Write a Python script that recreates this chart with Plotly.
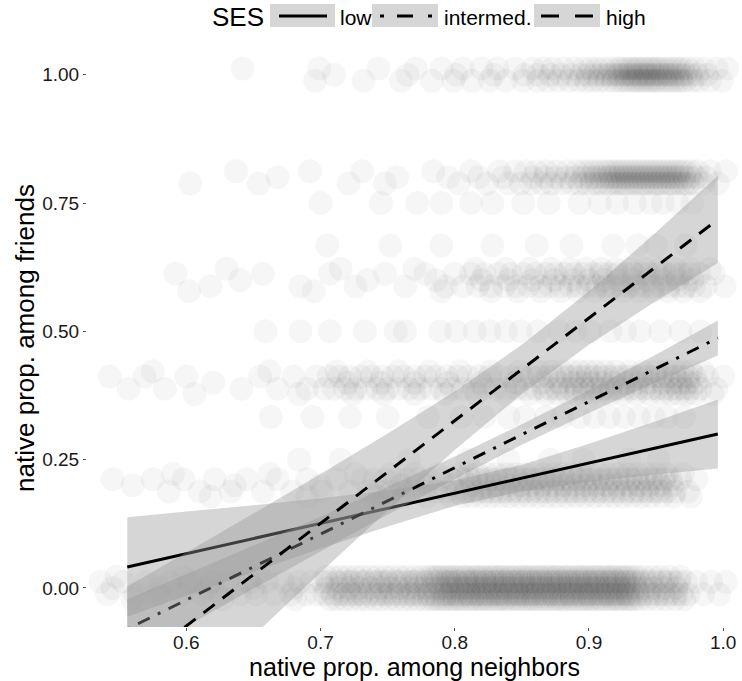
import plotly.graph_objects as go

# ---------------- data ----------------
# jittered observations: x in thousandths, grouped by friends-proportion level
r100_up = [642, 699, 743, 771, 790, 806, 820, 832, 845, 858, 866, 873, 881, 889, 896, 901, 906, 911, 916, 921, 924, 927, 930, 932, 935, 937, 940, 942, 945, 947, 950, 952, 955, 958, 961, 964, 967, 970, 974, 979, 986, 995, 1003]
r100_md = [710, 765, 801, 829, 852, 862, 871, 879, 887, 894, 899, 904, 908, 912, 915, 918, 921, 923, 926, 928, 931, 933, 936, 938, 941, 943, 945, 948, 950, 953, 955, 958, 960, 963, 966, 969, 972, 976, 981, 988]
r100_dn = [696, 732, 760, 783, 799, 813, 826, 838, 851, 862, 869, 877, 885, 892, 898, 903, 908, 913, 918, 922, 925, 928, 931, 934, 936, 939, 941, 944, 946, 949, 951, 954, 957, 960, 963, 966, 969, 972, 977, 982, 990, 999]
r080_up = [637, 692, 731, 784, 812, 833, 845, 853, 861, 868, 876, 884, 891, 896, 900, 904, 908, 912, 915, 918, 921, 924, 927, 930, 933, 936, 939, 942, 945, 948, 951, 954, 957, 960, 963, 966, 969, 972, 976, 981, 990, 1002]
r080_md = [668, 757, 795, 818, 836, 858, 867, 875, 883, 890, 896, 901, 905, 909, 913, 916, 919, 922, 925, 928, 931, 934, 937, 940, 943, 946, 949, 952, 955, 958, 961, 964, 967, 971, 975, 980, 987]
r080_dn = [603, 654, 721, 748, 803, 824, 840, 849, 857, 865, 872, 880, 887, 893, 898, 902, 906, 910, 914, 917, 920, 923, 926, 929, 932, 935, 938, 941, 944, 947, 950, 953, 956, 959, 962, 965, 968, 971, 974, 978, 985, 996]
r075 = [700, 745, 772, 790, 812, 828, 851, 870, 893, 908, 921, 934, 946, 955, 966, 977]
r067 = [705, 752, 790, 828, 861, 887, 918, 936, 950, 972]
r060_hi = [630, 715, 770, 815, 838, 856, 872, 886, 898, 909, 920, 931, 942, 953, 964, 975, 990]
r060_up = [592, 657, 707, 748, 778, 800, 812, 822, 832, 842, 851, 860, 868, 875, 882, 889, 896, 903, 909, 915, 921, 927, 933, 939, 945, 951, 957, 963, 969, 975, 982, 993]
r060_md = [640, 735, 786, 820, 840, 858, 874, 888, 900, 911, 922, 933, 944, 955, 966, 977]
r060_dn = [618, 685, 726, 763, 793, 806, 817, 827, 837, 846, 855, 864, 871, 879, 886, 893, 899, 906, 912, 918, 924, 930, 936, 942, 948, 954, 960, 966, 972, 978, 987, 1001]
r060_lo = [602, 695, 790, 827, 847, 864, 879, 892, 904, 915, 926, 937, 948, 959, 970, 983]
r050 = [659, 685, 707, 733, 756, 763, 789, 801, 815, 826, 838, 849, 862, 878, 890, 901, 916, 927, 938, 953, 968, 983]
r040_hi = [575, 662, 712, 735, 758, 781, 804, 827, 848, 862, 872, 880, 887, 893, 899, 905, 912, 920, 930, 940, 950, 958, 964, 970, 976, 985]
r040_up = [543, 569, 600, 655, 680, 697, 706, 714, 722, 730, 738, 746, 754, 762, 770, 778, 786, 794, 802, 810, 818, 826, 834, 842, 850, 857, 863, 869, 874, 879, 884, 889, 894, 899, 904, 909, 914, 919, 924, 929, 934, 939, 944, 949, 954, 959, 964, 969, 974, 979, 988, 1000]
r040_md = [620, 720, 745, 770, 795, 820, 845, 865, 878, 888, 895, 902, 910, 918, 927, 936, 945, 955, 962, 968, 974, 980]
r040_dn = [557, 584, 641, 668, 690, 703, 710, 718, 726, 734, 742, 750, 758, 766, 774, 782, 790, 798, 806, 814, 822, 830, 838, 846, 853, 860, 866, 871, 876, 881, 886, 891, 896, 901, 906, 911, 916, 921, 926, 931, 936, 941, 946, 951, 956, 961, 966, 971, 976, 983, 995]
r040_lo = [606, 684, 724, 747, 770, 793, 816, 838, 856, 868, 877, 884, 890, 896, 902, 908, 916, 925, 935, 945, 954, 961, 967, 973, 979, 992]
r033 = [663, 694, 722, 750, 780, 805, 822, 840, 852, 868, 880, 893, 904, 915, 926, 937, 948, 958, 971]
r025 = [684, 715, 766, 810, 840, 871, 896, 930, 952]
r020_hi = [590, 662, 726, 752, 770, 788, 803, 810, 817, 824, 831, 838, 845, 852, 859, 866, 873, 880, 887, 894, 901, 908, 915, 922, 929, 936, 943, 950, 958, 970]
r020_up = [545, 575, 598, 621, 645, 668, 690, 712, 731, 740, 748, 757, 765, 773, 781, 790, 798, 806, 811, 816, 821, 826, 831, 836, 841, 846, 851, 856, 861, 866, 871, 876, 881, 886, 891, 896, 901, 906, 911, 916, 921, 926, 931, 936, 941, 946, 951, 956, 961, 968, 980]
r020_md = [560, 636, 700, 760, 780, 798, 812, 822, 831, 840, 849, 857, 865, 873, 881, 889, 897, 905, 913, 921, 929, 937, 945, 953, 962]
r020_dn = [587, 610, 633, 657, 679, 701, 722, 736, 744, 752, 761, 769, 777, 786, 794, 802, 808, 813, 818, 823, 828, 833, 838, 843, 848, 853, 858, 863, 868, 873, 878, 883, 888, 893, 898, 903, 908, 913, 918, 923, 928, 933, 938, 943, 948, 953, 958, 964, 974]
r020_lo = [618, 690, 742, 762, 779, 796, 806, 813, 820, 827, 834, 841, 848, 855, 862, 869, 876, 883, 890, 897, 904, 911, 918, 925, 932, 939, 946, 954, 963, 976]
r000_hi = [548, 598, 655, 704, 709, 715, 720, 726, 731, 737, 742, 748, 753, 759, 764, 770, 775, 780, 783, 786, 788, 791, 794, 796, 799, 801, 804, 807, 809, 812, 815, 817, 820, 822, 825, 828, 830, 833, 835, 838, 841, 843, 846, 849, 851, 854, 856, 859, 862, 864, 867, 870, 872, 875, 877, 880, 883, 885, 888, 891, 893, 896, 898, 901, 904, 906, 909, 912, 914, 917, 919, 922, 925, 927, 930, 933, 936, 941, 947, 953, 960, 968]
r000_up = [536, 553, 570, 588, 603, 619, 631, 647, 660, 672, 684, 693, 701, 705, 712, 716, 721, 724, 730, 733, 739, 743, 747, 750, 756, 759, 764, 768, 771, 776, 779, 784, 787, 792, 795, 797, 801, 803, 808, 810, 813, 816, 818, 822, 824, 828, 830, 833, 836, 838, 842, 844, 847, 850, 852, 856, 858, 861, 864, 866, 870, 872, 875, 878, 880, 884, 886, 889, 892, 894, 898, 900, 903, 906, 908, 912, 914, 917, 920, 922, 926, 928, 931, 934, 938, 942, 946, 950, 955, 958, 963, 967, 972, 980, 991, 1002]
r000_md = [545, 580, 615, 650, 680, 705, 713, 721, 729, 737, 745, 752, 759, 766, 772, 778, 784, 789, 794, 798, 802, 806, 810, 814, 818, 822, 826, 830, 834, 838, 842, 846, 850, 854, 858, 862, 866, 870, 874, 878, 882, 886, 890, 894, 898, 902, 906, 910, 914, 918, 922, 926, 930, 935, 941, 948, 956, 965]
r000_dn = [541, 562, 579, 596, 611, 625, 640, 652, 665, 678, 689, 697, 703, 709, 714, 718, 723, 727, 731, 736, 741, 745, 749, 753, 757, 761, 766, 769, 773, 778, 781, 785, 790, 793, 796, 799, 802, 806, 809, 811, 815, 817, 820, 823, 826, 829, 832, 834, 837, 840, 843, 846, 848, 851, 854, 857, 859, 862, 865, 868, 871, 873, 876, 879, 882, 885, 887, 890, 893, 896, 899, 901, 904, 907, 910, 913, 915, 918, 921, 924, 927, 929, 932, 936, 940, 944, 948, 952, 956, 960, 965, 969, 974, 985, 997]
r000_lo = [560, 627, 681, 707, 712, 718, 723, 729, 734, 740, 745, 751, 756, 762, 767, 772, 777, 781, 784, 787, 790, 792, 795, 798, 800, 803, 805, 808, 811, 813, 816, 819, 821, 824, 826, 829, 832, 834, 837, 839, 842, 845, 847, 850, 853, 855, 858, 860, 863, 866, 868, 871, 874, 876, 879, 881, 884, 887, 889, 892, 895, 897, 900, 902, 905, 908, 910, 913, 916, 918, 921, 923, 926, 929, 931, 934, 938, 944, 950, 957, 964, 971]

# (x-list, friends level, small vertical jitter)
point_rows = [
    (r100_up, 1.00, 0.012), (r100_md, 1.00, 0.0), (r100_dn, 1.00, -0.012),
    (r080_up, 0.80, 0.012), (r080_md, 0.80, 0.0), (r080_dn, 0.80, -0.012),
    (r075, 0.75, 0.0), (r067, 0.667, 0.0),
    (r060_hi, 0.60, 0.022), (r060_up, 0.60, 0.012), (r060_md, 0.60, 0.0),
    (r060_dn, 0.60, -0.012), (r060_lo, 0.60, -0.022),
    (r050, 0.50, 0.0),
    (r040_hi, 0.40, 0.022), (r040_up, 0.40, 0.012), (r040_md, 0.40, 0.0),
    (r040_dn, 0.40, -0.012), (r040_lo, 0.40, -0.022),
    (r033, 0.333, 0.0), (r025, 0.25, 0.0),
    (r020_hi, 0.20, 0.022), (r020_up, 0.20, 0.012), (r020_md, 0.20, 0.0),
    (r020_dn, 0.20, -0.012), (r020_lo, 0.20, -0.022),
    (r000_hi, 0.00, 0.022), (r000_up, 0.00, 0.012), (r000_md, 0.00, 0.0),
    (r000_dn, 0.00, -0.012), (r000_lo, 0.00, -0.022),
]

# fitted linear trends with 95% bands
fit_x = [0.556, 0.60, 0.65, 0.70, 0.75, 0.80, 0.85, 0.90, 0.95, 0.996]
low_fit = [0.041, 0.067, 0.096, 0.126, 0.155, 0.185, 0.214, 0.244, 0.273, 0.300]
low_hi = [0.138, 0.149, 0.161, 0.175, 0.190, 0.210, 0.240, 0.281, 0.325, 0.367]
low_lo = [-0.056, -0.015, 0.031, 0.077, 0.120, 0.160, 0.188, 0.207, 0.221, 0.233]
mid_fit = [-0.080, -0.024, 0.041, 0.105, 0.170, 0.234, 0.299, 0.363, 0.428, 0.487]
mid_hi = [-0.022, 0.027, 0.083, 0.139, 0.197, 0.256, 0.319, 0.385, 0.455, 0.521]
mid_lo = [-0.138, -0.075, -0.001, 0.071, 0.143, 0.212, 0.279, 0.341, 0.401, 0.453]
high_fit = [-0.162, -0.074, 0.026, 0.126, 0.226, 0.326, 0.426, 0.526, 0.626, 0.718]
high_hi = [0.003, 0.069, 0.145, 0.222, 0.301, 0.383, 0.474, 0.578, 0.693, 0.803]
high_lo = [-0.327, -0.217, -0.093, 0.030, 0.151, 0.269, 0.378, 0.474, 0.559, 0.633]

ses_labels = ["low", "intermed.", "high"]
x_ticks = [0.6, 0.7, 0.8, 0.9, 1.0]
x_tick_text = ["0.6", "0.7", "0.8", "0.9", "1.0"]
y_ticks = [0.0, 0.25, 0.5, 0.75, 1.0]
y_tick_text = ["0.00", "0.25", "0.50", "0.75", "1.00"]

# ---------------- figure ----------------
FONT = "Liberation Sans, Arial, Helvetica, sans-serif"
W, H = 742, 681
ML, MR, MT, MB = 87, 0, 49, 54
PW, PH = W - ML - MR, H - MT - MB

fig = go.Figure()

for xs, level, dy in point_rows:
    fig.add_trace(go.Scatter(
        x=[v / 1000 for v in xs], y=[level + dy] * len(xs), mode="markers",
        marker=dict(size=24, color="rgba(0,0,0,0.035)", line=dict(width=0)),
        hoverinfo="skip", showlegend=False))

styles = [
    (low_fit, low_hi, low_lo, "solid"),
    (mid_fit, mid_hi, mid_lo, "3px,9px,13px,9px"),
    (high_fit, high_hi, high_lo, "14px,10px"),
]
for (fit, hi, lo, dash), name in zip(styles, ses_labels):
    fig.add_trace(go.Scatter(
        x=fit_x + fit_x[::-1], y=hi + lo[::-1], fill="toself", mode="none",
        fillcolor="rgba(153,153,153,0.4)", hoverinfo="skip", showlegend=False))
    fig.add_trace(go.Scatter(
        x=fit_x, y=fit, mode="lines", name=name,
        line=dict(color="black", width=3, dash=dash), showlegend=False))

# manual legend (top, ggplot-like keys)
def px(xp):
    return (xp - ML) / PW

def py(yp):
    return (H - MB - yp) / PH

key_boxes = [(270, 335), (372, 438), (534, 600)]
for (a, b) in key_boxes:
    fig.add_shape(type="rect", xref="paper", yref="paper", x0=px(a), x1=px(b),
                  y0=py(27), y1=py(4), fillcolor="#d6d6d6", line=dict(width=0), layer="above")
key_segments = [
    [(279, 327)],
    [(380, 384), (397, 413), (428, 432)],
    [(541, 559), (575, 593)],
]
for segs in key_segments:
    for (a, b) in segs:
        fig.add_shape(type="line", xref="paper", yref="paper", x0=px(a), x1=px(b),
                      y0=py(16), y1=py(16), line=dict(color="black", width=3), layer="above")

fig.add_annotation(x=px(238), y=py(17), xref="paper", yref="paper", text="SES",
                   showarrow=False, xanchor="center", yanchor="middle",
                   font=dict(family=FONT, size=26, color="black"))
for xp, t in zip([338, 442, 604], ses_labels):
    fig.add_annotation(x=px(xp), y=py(17), xref="paper", yref="paper", text=t,
                       showarrow=False, xanchor="left", yanchor="middle",
                       font=dict(family=FONT, size=21, color="black"))

fig.update_layout(
    width=W, height=H,
    margin=dict(l=ML, r=MR, t=MT, b=MB),
    paper_bgcolor="white", plot_bgcolor="white",
    showlegend=False,
    font=dict(family=FONT, color="black"),
    xaxis=dict(range=[0.526, 1.014], tickvals=x_ticks, ticktext=x_tick_text,
               showgrid=False, zeroline=False, showline=False,
               ticks="outside", ticklen=3, tickcolor="#555", tickwidth=1,
               ticklabelstandoff=-5,
               tickfont=dict(family=FONT, size=19, color="#1a1a1a"),
               title=dict(text="native prop. among neighbors", standoff=2,
                          font=dict(family=FONT, size=25, color="black"))),
    yaxis=dict(range=[-0.076, 1.05], tickvals=y_ticks, ticktext=y_tick_text,
               showgrid=False, zeroline=False, showline=False,
               ticks="outside", ticklen=3, tickcolor="#555", tickwidth=1,
               tickfont=dict(family=FONT, size=19, color="#1a1a1a"),
               title=dict(text="native prop. among friends", standoff=0,
                          font=dict(family=FONT, size=26, color="black"))),
)

fig.write_html("out.html")
